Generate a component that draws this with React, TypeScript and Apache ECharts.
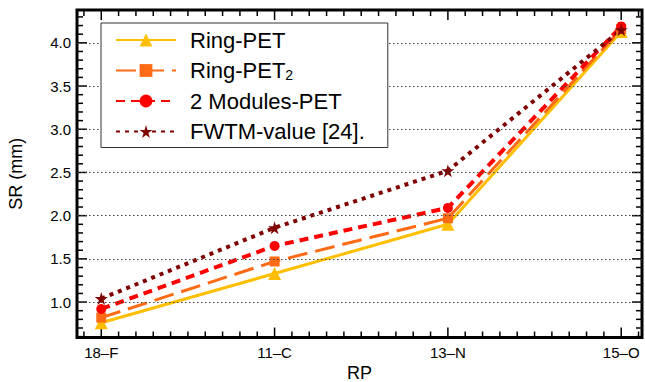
import React, { useEffect, useRef } from "react";
import * as echarts from "echarts";

const categories = ["18–F", "11–C", "13–N", "15–O"];
const seriesNames = ["Ring-PET", "Ring-PET2", "2 Modules-PET", "FWTM-value [24]."];
const ringPET = [0.76, 1.33, 1.9, 4.13];
const ringPET2 = [0.82, 1.47, 1.97, 4.16];
const modulesPET = [0.92, 1.65, 2.09, 4.19];
const fwtmValue = [1.04, 1.86, 2.52, 4.15];

const yMajorTicks = [1.0, 1.5, 2.0, 2.5, 3.0, 3.5, 4.0];
const xMajorTicks = [0, 1, 2, 3];

const X_MIN = -0.14;
const X_MAX = 3.12;
const Y_MIN = 0.59;
const Y_MAX = 4.38;

function minorTicks(from: number, to: number, step: number, exclude: number[]) {
  const out: number[] = [];
  const n = Math.round((to - from) / step);
  for (let i = 0; i <= n; i++) {
    const v = Math.round((from + i * step) * 100) / 100;
    if (!exclude.some((e) => Math.abs(e - v) < 1e-6)) out.push(v);
  }
  return out;
}
const xMinorTicks = minorTicks(-0.1, 3.1, 0.1, xMajorTicks);
const yMinorTicks = minorTicks(0.6, 4.3, 0.1, yMajorTicks);

const STAR =
  "path://M50,0 L61,35 L98,35 L68,57 L79,91 L50,70 L21,91 L32,57 L2,35 L39,35 Z";

const FONT = "Liberation Sans";

const GRID = { left: 77, top: 10, right: 3, bottom: 44.5 };
const W = 645;
const H = 382;

export default function App() {
  const ref = useRef<HTMLDivElement>(null);
  useEffect(() => {
    if (!ref.current) return;
    const chart = echarts.init(ref.current, undefined, { renderer: "svg" });
    const toXY = (vals: number[]) => vals.map((v, i) => [i, v]);

    const lineSeries = (
      name: string,
      vals: number[],
      color: string,
      width: number,
      type: any,
      symbol: string,
      symbolSize: number
    ) => ({
      type: "line",
      name,
      data: toXY(vals),
      z: 3,
      color,
      symbol,
      symbolSize,
      showSymbol: true,
      lineStyle: { color, width, type },
      itemStyle: { color, borderWidth: 0 },
    });

    chart.setOption({
      animation: false,
      textStyle: { fontFamily: FONT },
      grid: {
        ...GRID,
        show: true,
        borderColor: "#000",
        borderWidth: 3,
        backgroundColor: "transparent",
        outerBoundsMode: "none",
        containLabel: false,
      },
      xAxis: {
        type: "value",
        min: X_MIN,
        max: X_MAX,
        axisLine: { show: false, onZero: false },
        axisTick: { show: false },
        splitLine: { show: false },
        axisLabel: {
          show: true,
          customValues: xMajorTicks,
          formatter: (v: number) => categories[Math.round(v)] ?? "",
          fontSize: 15,
          color: "#000",
          fontFamily: FONT,
          margin: 7,
        },
        name: "RP",
        nameLocation: "middle",
        nameGap: 24,
        nameTextStyle: { fontSize: 18, color: "#000", fontFamily: FONT },
      },
      yAxis: {
        type: "value",
        min: Y_MIN,
        max: Y_MAX,
        axisLine: { show: false, onZero: false },
        axisTick: { show: false },
        splitLine: { show: false },
        axisLabel: {
          show: true,
          customValues: yMajorTicks,
          formatter: (v: number) => v.toFixed(1),
          fontSize: 15,
          color: "#000",
          fontFamily: FONT,
          margin: 6,
        },
        name: "SR (mm)",
        nameLocation: "middle",
        nameRotate: 90,
        nameGap: 52,
        nameTextStyle: { fontSize: 18, color: "#000", fontFamily: FONT },
      },
      legend: {
        show: true,
        orient: "vertical",
        left: 101,
        top: 23,
        data: seriesNames,
        backgroundColor: "#fff",
        borderColor: "#333",
        borderWidth: 1,
        borderRadius: 0,
        padding: [6, 23, 5, 14],
        itemGap: 8.5,
        itemWidth: 60,
        itemHeight: 16,
        textStyle: {
          fontSize: 22,
          lineHeight: 22,
          color: "#000",
          fontFamily: FONT,
          padding: [0, 0, 0, 9],
          rich: {
            sub: { fontSize: 14, verticalAlign: "bottom", padding: [10, 0, 0, 0], color: "#000", fontFamily: FONT },
          },
        },
        formatter: (name: string) => (name === "Ring-PET2" ? "Ring-PET{sub|2}" : name),
        z: 10,
      },
      series: [
        {
          type: "line",
          name: "grid",
          data: [[0, 1]],
          z: 1,
          silent: true,
          showSymbol: false,
          symbol: "none",
          lineStyle: { opacity: 0 },
          markLine: {
            silent: true,
            symbol: "none",
            label: { show: false },
            lineStyle: { color: "#444", width: 1, type: [1.5, 2.5] },
            data: yMajorTicks.map((v) => ({ yAxis: v })),
          },
        },
        lineSeries("Ring-PET", ringPET, "#FFBF00", 3, "solid", "triangle", 13),
        lineSeries("Ring-PET2", ringPET2, "#FF6A14", 3, [20, 8], "rect", 10),
        lineSeries("2 Modules-PET", modulesPET, "#FF0000", 4, [9, 6], "circle", 10),
        lineSeries("FWTM-value [24].", fwtmValue, "#800000", 4, [4, 5], STAR, 13),
      ],
    });

    // Tick marks on all four sides, positioned through the chart's own scales.
    const px = (x: number, y: number) => chart.convertToPixel({ gridIndex: 0 }, [x, y]) as number[];
    const left = px(X_MIN, Y_MIN)[0];
    const right = px(X_MAX, Y_MIN)[0];
    const bottom = px(X_MIN, Y_MIN)[1];
    const top = px(X_MIN, Y_MAX)[1];
    const stroke = { stroke: "#000", lineWidth: 1.5 };
    const ticks: any[] = [];
    const addX = (v: number, len: number) => {
      const x = px(v, Y_MIN)[0];
      ticks.push({ type: "line", silent: true, z: 2, shape: { x1: x, y1: bottom, x2: x, y2: bottom - len }, style: stroke });
      ticks.push({ type: "line", silent: true, z: 2, shape: { x1: x, y1: top, x2: x, y2: top + len }, style: stroke });
    };
    const addY = (v: number, len: number) => {
      const y = px(X_MIN, v)[1];
      ticks.push({ type: "line", silent: true, z: 2, shape: { x1: left, y1: y, x2: left + len, y2: y }, style: stroke });
      ticks.push({ type: "line", silent: true, z: 2, shape: { x1: right, y1: y, x2: right - len, y2: y }, style: stroke });
    };
    xMajorTicks.forEach((v) => addX(v, 10));
    xMinorTicks.forEach((v) => addX(v, 6));
    yMajorTicks.forEach((v) => addY(v, 10));
    yMinorTicks.forEach((v) => addY(v, 6));
    chart.setOption({ graphic: ticks });

    return () => chart.dispose();
  }, []);
  return (
    <div
      ref={ref}
      style={{ position: "fixed", left: 0, top: 0, width: W, height: H, background: "#fff" }}
    />
  );
}
